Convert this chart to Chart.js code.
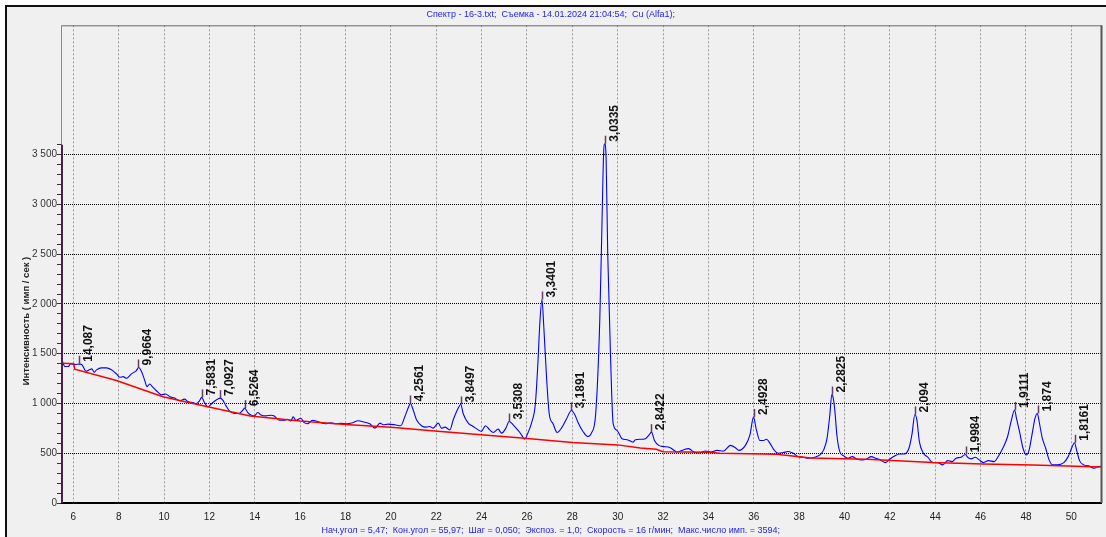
<!DOCTYPE html>
<html>
<head>
<meta charset="utf-8">
<script src="https://cdn.jsdelivr.net/npm/chart.js@4.4.1/dist/chart.umd.min.js"></script>
<style>
  html, body { margin: 0; padding: 0; background: #fff; }
  #wrap { width: 1106px; height: 537px; position: relative; }
</style>
</head>
<body>
<div id="wrap"><canvas id="chart"></canvas></div>
<script>
// --- spectrum (2theta, counts) ---
const angles = [
  5.49, 5.63, 5.78, 5.88, 6.07, 6.30, 6.37, 6.56, 6.70, 6.81, 6.92, 7.02, 7.24, 7.46, 7.68, 7.90,
  8.05, 8.20, 8.34, 8.56, 8.78, 8.88, 9.00, 9.15, 9.25, 9.37, 9.48, 9.66, 9.88, 10.07, 10.25, 10.47,
  10.69, 10.90, 11.05, 11.27, 11.42, 11.56, 11.66, 11.78, 11.93, 12.15, 12.37, 12.47, 12.59, 12.73,
  12.88, 13.10, 13.29, 13.47, 13.55, 13.69, 13.83, 13.98, 14.13, 14.27, 14.49, 14.71, 14.86, 15.08,
  15.30, 15.44, 15.59, 15.69, 15.81, 16.03, 16.18, 16.32, 16.54, 16.69, 16.91, 17.13, 17.35, 17.57,
  17.80, 18.05, 18.27, 18.56, 18.78, 19.07, 19.30, 19.52, 19.66, 19.88, 20.18, 20.43, 20.62, 20.76,
  20.86, 20.98, 21.13, 21.35, 21.57, 21.72, 21.86, 22.09, 22.23, 22.38, 22.60, 22.75, 22.97, 23.08,
  23.19, 23.41, 23.63, 23.85, 23.99, 24.17, 24.36, 24.51, 24.73, 24.88, 25.07, 25.21, 25.39, 25.61,
  25.76, 25.90, 26.05, 26.20, 26.37, 26.49, 26.56, 26.66, 26.74, 26.86, 26.98, 27.15, 27.33, 27.52,
  27.74, 27.96, 28.11, 28.25, 28.47, 28.69, 28.84, 29.03, 29.21, 29.31, 29.38, 29.43, 29.49, 29.56,
  29.68, 29.80, 29.97, 30.19, 30.41, 30.56, 30.68, 30.78, 31.00, 31.22, 31.37, 31.49, 31.62, 31.81,
  31.96, 32.32, 32.62, 32.91, 33.13, 33.35, 33.57, 33.87, 34.09, 34.38, 34.67, 34.97, 35.19, 35.34,
  35.63, 35.83, 35.99, 36.10, 36.27, 36.42, 36.56, 36.71, 36.89, 37.08, 37.30, 37.52, 37.74, 37.96,
  38.18, 38.40, 38.69, 38.91, 39.08, 39.23, 39.35, 39.44, 39.49, 39.57, 39.67, 39.79, 39.96, 40.15,
  40.34, 40.55, 40.78, 40.96, 41.18, 41.37, 41.58, 41.81, 41.99, 42.21, 42.43, 42.64, 42.84, 42.98,
  43.10, 43.19, 43.30, 43.48, 43.67, 43.89, 44.11, 44.33, 44.55, 44.74, 44.92, 45.14, 45.33, 45.43,
  45.58, 45.77, 45.94, 46.12, 46.35, 46.60, 46.79, 47.00, 47.19, 47.36, 47.50, 47.58, 47.73, 47.87,
  48.02, 48.14, 48.29, 48.40, 48.50, 48.58, 48.72, 48.87, 49.02, 49.17, 49.38, 49.67, 49.86, 50.01,
  50.14, 50.23, 50.36, 50.55, 50.77, 50.99, 51.21, 51.33
];
const counts = [
  1439, 1372, 1372, 1399, 1392, 1395, 1392, 1324, 1338, 1348, 1314, 1338, 1358, 1358, 1338, 1297,
  1263, 1270, 1253, 1297, 1331, 1362, 1324, 1230, 1169, 1196, 1169, 1128, 1088, 1095, 1068, 1054,
  1027, 1044, 1020, 1010, 1000, 1027, 1061, 1010, 966, 1010, 1044, 1054, 1034, 976,
  926, 899, 899, 932, 953, 909, 885, 875, 909, 885, 875, 882, 875, 831,
  831, 841, 824, 865, 831, 851, 807, 797, 831, 824, 807, 797, 807, 797,
  800, 796, 803, 826, 816, 796, 752, 803, 786, 793, 786, 776, 870, 954,
  1000, 937, 836, 776, 762, 769, 752, 803, 752, 762, 735, 836, 954, 990,
  897, 803, 769, 735, 719, 776, 735, 709, 742, 702, 752, 819, 786, 729,
  685, 641, 709, 803, 998, 1442, 1778, 2045, 1778, 1273, 897, 796, 709, 752,
  843, 930, 887, 809, 719, 668, 702, 897, 1838, 2845, 3517, 3610, 3449, 2510,
  1503, 798, 730, 646, 636, 622, 612, 636, 640, 646, 680, 712, 629, 579,
  569, 556, 512, 536, 546, 512, 502, 522, 512, 529, 522, 579, 556, 529,
  579, 685, 865, 750, 628, 628, 641, 601, 534, 500, 507, 517, 500, 466,
  460, 450, 460, 483, 534, 651, 880, 1090, 1070, 936, 668, 517, 473, 450,
  466, 440, 433, 440, 466, 450, 433, 406, 440, 473, 493, 493, 550, 700,
  890, 836, 617, 500, 460, 406, 406, 383, 426, 416, 450, 460, 487, 460,
  443, 460, 433, 406, 426, 416, 473, 560, 668, 836, 935, 852, 701, 550,
  483, 534, 718, 852, 900, 819, 651, 550, 433, 383, 383, 406, 466, 550,
  605, 534, 426, 383, 373, 349, 366, 370
];

// --- background line ---
const bgAngles = [5.50, 6.02, 6.06, 7.90, 9.95, 11.42, 13.80, 16.00, 18.00, 20.00, 22.20, 25.90,
  28.00, 30.00, 31.00, 31.70, 32.00, 34.00, 34.50, 37.00, 38.50, 41.00, 43.90, 46.10, 48.30, 51.33];
const bgCounts = [1405, 1400, 1345, 1230, 1068, 993, 875, 824, 790, 762, 719, 651,
  608, 584, 552, 540, 515, 510, 500, 490, 452, 440, 406, 393, 383, 362];

// --- marked peaks (2theta, counts at peak top, d-spacing label) ---
const peakAngles = [6.27, 8.87, 11.66, 12.47, 13.56, 20.86, 23.09, 25.20, 26.67, 27.95, 29.43,
  31.47, 35.99, 39.44, 43.12, 45.34, 47.52, 48.52, 50.16];
const peakCounts = [1399, 1362, 1061, 1054, 953, 1000, 990, 819, 2045, 930, 3610,
  712, 865, 1090, 890, 487, 935, 900, 605];
const peakLabels = ["14,087", "9,9664", "7,5831", "7,0927", "6,5264", "4,2561", "3,8497", "3,5308",
  "3,3401", "3,1891", "3,0335", "2,8422", "2,4928", "2,2825", "2,094", "1,9984", "1,9111", "1,874", "1,8161"];

// --- axes ---
const xTicks = [6, 8, 10, 12, 14, 16, 18, 20, 22, 24, 26, 28, 30, 32, 34, 36, 38, 40, 42, 44, 46, 48, 50];
const yTopTick = 3600;   // minor ticks every 100 up to here, labels every 500
const yMinorStep = 100;
const yMajorStep = 500;

const titleText = "Спектр - 16-3.txt;  Съемка - 14.01.2024 21:04:54;  Cu (Alfa1);";
const footText = "Нач.угол = 5,47;  Кон.угол = 55,97;  Шаг = 0,050;  Экспоз. = 1,0;  Скорость = 16 г/мин;  Макс.число имп. = 3594;";
const yTitle = "Интенсивность ( имп / сек )";

const fmtY = (v) => v >= 1000 ? Math.floor(v / 1000) + " " + String(v % 1000).padStart(3, "0") : String(v);

Chart.defaults.font.family = 'Arial, "Liberation Sans", sans-serif';

// panel background + outer frame
const framePlugin = {
  id: "frame",
  beforeDraw(chart) {
    const { ctx, width, height } = chart;
    ctx.save();
    ctx.fillStyle = "#ffffff";
    ctx.fillRect(0, 0, width, height);
    ctx.fillStyle = "#f0f0f0";
    ctx.fillRect(6, 6, width - 6, height - 6);
    ctx.fillStyle = "#111111";
    ctx.fillRect(5, 5, width - 5, 2);
    ctx.fillRect(5, 5, 2, height - 5);
    ctx.restore();
  },
  afterDraw(chart) {
    const { ctx, chartArea: a } = chart;
    const y = chart.scales.y;
    ctx.save();
    // plot box top / right
    ctx.fillStyle = "#6a6a6a";
    ctx.fillRect(a.left, a.top, a.right - a.left, 1);
    ctx.fillStyle = "#555555";
    ctx.fillRect(a.right - 1, a.top, 2, a.bottom - a.top);
    // left axis line
    const yTop = y.getPixelForValue(yTopTick);
    ctx.fillStyle = "#8a8a8a";
    ctx.fillRect(a.left - 1, a.top, 1, yTop - a.top);
    ctx.fillStyle = "#4a2048";
    ctx.fillRect(a.left - 1, yTop, 2, a.bottom - yTop);
    // y axis title
    ctx.translate(26, 321);
    ctx.rotate(-Math.PI / 2);
    ctx.fillStyle = "#222";
    ctx.font = 'bold 9.5px Arial, "Liberation Sans", sans-serif';
    ctx.textAlign = "center";
    ctx.textBaseline = "middle";
    ctx.fillText(yTitle, 0, 0);
    ctx.restore();
  }
};

// d-spacing labels over peaks
const peakPlugin = {
  id: "peaks",
  afterDatasetsDraw(chart) {
    const { ctx } = chart;
    const xs = chart.scales.x, ys = chart.scales.y;
    ctx.save();
    peakAngles.forEach((a, i) => {
      const px = Math.round(xs.getPixelForValue(a)) + 0.5;
      const py = ys.getPixelForValue(peakCounts[i]);
      ctx.strokeStyle = "#6a3a66";
      ctx.lineWidth = 1.5;
      ctx.beginPath();
      ctx.moveTo(px, py);
      ctx.lineTo(px, py - 8);
      ctx.stroke();
      ctx.save();
      ctx.translate(px + 3, py - 2);
      ctx.rotate(-Math.PI / 2);
      ctx.fillStyle = "#111";
      ctx.font = 'bold 12px Arial, "Liberation Sans", sans-serif';
      ctx.textAlign = "left";
      ctx.textBaseline = "top";
      ctx.fillText(peakLabels[i], 0, 0);
      ctx.restore();
    });
    ctx.restore();
  }
};

const ctx = document.getElementById("chart").getContext("2d");
new Chart(ctx, {
  type: "line",
  data: {
    datasets: [
      {
        label: "Фон",
        data: bgAngles.map((a, i) => ({ x: a, y: bgCounts[i] })),
        borderColor: "#ff0000",
        borderWidth: 1.5,
        pointRadius: 0,
        tension: 0
      },
      {
        label: "Спектр",
        data: angles.map((a, i) => ({ x: a, y: counts[i] })),
        borderColor: "#0000ff",
        borderWidth: 1.1,
        pointRadius: 0,
        cubicInterpolationMode: "monotone"
      }
    ]
  },
  options: {
    responsive: true,
    maintainAspectRatio: false,
    animation: false,
    layout: { padding: { left: 0, right: 4.5, top: 0, bottom: 0 } },
    plugins: {
      legend: { display: false },
      tooltip: { enabled: false },
      title: {
        display: true,
        text: titleText,
        color: "#2222ee",
        font: { size: 9, weight: "normal" },
        padding: { top: 9, bottom: 5.5 }
      },
      subtitle: {
        display: true,
        position: "bottom",
        text: footText,
        color: "#2222ee",
        font: { size: 9, weight: "normal" },
        padding: { top: 2, bottom: 1 }
      }
    },
    scales: {
      x: {
        type: "linear",
        min: 5.5,
        max: 51.33,
        afterBuildTicks: (s) => { s.ticks = xTicks.map(v => ({ value: v })); },
        afterFit: (s) => { s.height = 20.2; },
        ticks: { color: "#222", font: { size: 10 }, padding: 8, autoSkip: false, maxRotation: 0 },
        grid: { color: "#9a9a9a", drawTicks: false },
        border: { display: true, color: "#000", width: 2, dash: [2, 2] }
      },
      y: {
        min: 0,
        max: 4800,
        afterBuildTicks: (s) => {
          const t = [];
          for (let v = 0; v <= yTopTick; v += yMinorStep) t.push({ value: v });
          s.ticks = t;
        },
        afterFit: (s) => { s.width = 62; },
        ticks: {
          color: "#333",
          font: { size: 10 },
          padding: 0,
          autoSkip: false,
          callback: (v) => (v % yMajorStep === 0 && v <= 3500) ? fmtY(v) : ""
        },
        grid: {
          color: (c) => (c.tick && c.tick.value % yMajorStep === 0 && c.tick.value > 0 && c.tick.value <= 3500) ? "#000" : "rgba(0,0,0,0)",
          tickColor: "#333",
          tickLength: 5,
          drawTicks: true
        },
        border: { display: false, dash: [1, 1] }
      }
    }
  },
  plugins: [framePlugin, peakPlugin]
});
</script>
</body>
</html>
